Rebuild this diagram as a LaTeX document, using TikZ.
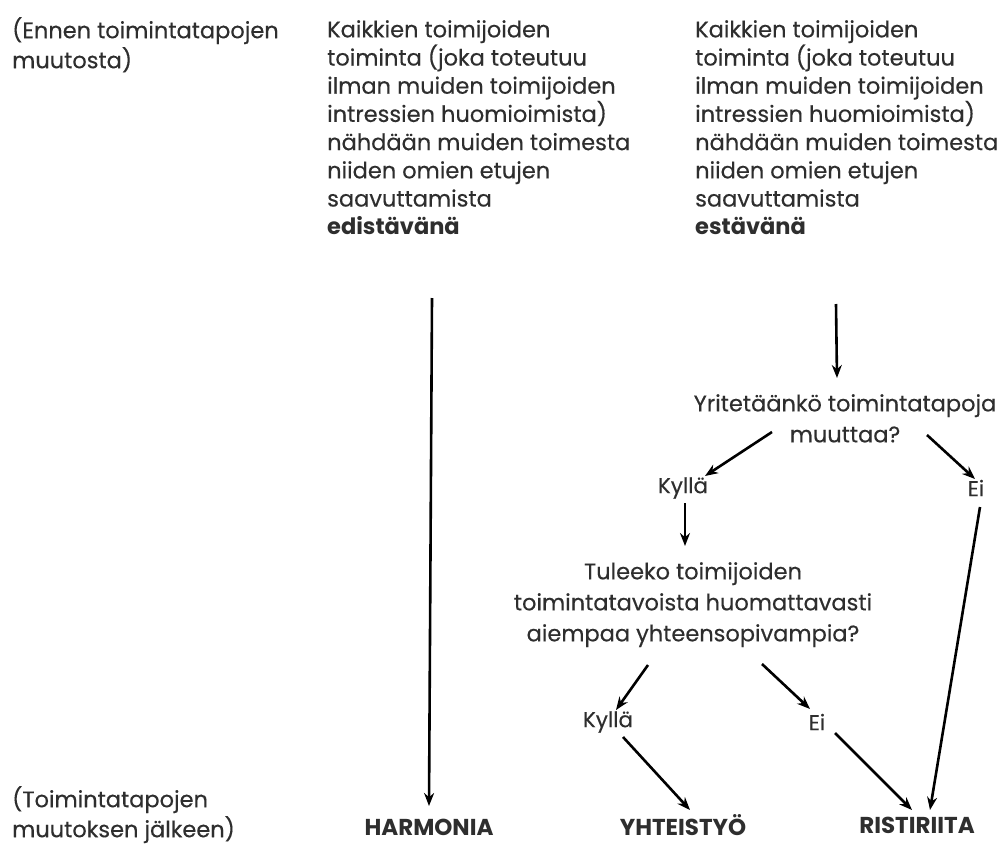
\documentclass[tikz,border=0pt]{standalone}
\usepackage{fontspec}
\setmainfont{Poppins}[UprightFeatures={FakeBold=0.3}]
\usetikzlibrary{arrows.meta}
\definecolor{textgray}{HTML}{2E2E2E}
\tikzset{
  txt/.style={font=\fontsize{22.5}{28.2}\selectfont, text=textgray, inner sep=0pt, align=left},
  lbltxt/.style={font=\fontsize{22.5}{30}\selectfont, text=textgray, inner sep=0pt, align=left},
  qtxt/.style={font=\fontsize{22.5}{31}\selectfont, text=textgray, inner sep=0pt, align=center},
  ans/.style={font=\fontsize{21.5}{22}\selectfont, text=textgray, inner sep=0pt},
  outc/.style={font=\fontsize{23}{24}\selectfont\bfseries, text=textgray, inner sep=0pt},
  arr/.style={-{Stealth[length=13pt,width=10pt]}, line width=2.6pt, black}
}
\begin{document}
\begin{tikzpicture}[x=1pt,y=-1pt]
\useasboundingbox[fill=white] (0,0) rectangle (1005,846);

\node[lbltxt, anchor=north west] (lbl1) at (12,17) {(Ennen toimintatapojen\\muutosta)};
\node[txt, anchor=north west] (blk1) at (327,20) {Kaikkien toimijoiden\\toiminta (joka toteutuu\\ilman muiden toimijoiden\\intressien huomioimista)\\nähdään muiden toimesta\\niiden omien etujen\\saavuttamista\\\textbf{edistävänä}};
\node[txt, anchor=north west] (blk2) at (695,20) {Kaikkien toimijoiden\\toiminta (joka toteutuu\\ilman muiden toimijoiden\\intressien huomioimista)\\nähdään muiden toimesta\\niiden omien etujen\\saavuttamista\\\textbf{estävänä}};

\node[qtxt, anchor=north] (q1) at (845,394) {Yritetäänkö toimintatapoja\\muuttaa?};
\node[ans] (k1) at (683,488) {Kyllä};
\node[ans] (e1) at (976,488) {Ei};
\node[qtxt, anchor=north] (q2) at (693,562) {Tuleeko toimijoiden\\toimintatavoista huomattavasti\\aiempaa yhteensopivampia?};
\node[ans] (k2) at (608,722) {Kyllä};
\node[ans] (e2) at (817,722) {Ei};

\node[outc] (harm) at (429,827) {HARMONIA};
\node[outc] (yht) at (683,825) {YHTEISTYÖ};
\node[outc] (rist) at (917,825) {RISTIRIITA};
\node[lbltxt, anchor=north west] (lbl2) at (12,786) {(Toimintatapojen\\muutoksen jälkeen)};

\coordinate (s1) at (432,298);
\coordinate (t1) at (429,806);
\coordinate (s2) at (836,304);
\coordinate (t2) at (837,378);
\coordinate (s3) at (772,432);
\coordinate (t3) at (705,476);
\coordinate (s4) at (927,435);
\coordinate (t4) at (975,479);
\coordinate (s5) at (685,503);
\coordinate (t5) at (685,546);
\coordinate (s6) at (648,665);
\coordinate (t6) at (616,710);
\coordinate (s7) at (762,664);
\coordinate (t7) at (810,709);
\coordinate (s8) at (623,737);
\coordinate (t8) at (690,810);
\coordinate (s9) at (835,733);
\coordinate (t9) at (912,810);
\coordinate (s10) at (980,507);
\coordinate (t10) at (930,810);

\draw[arr] (s1) -- (t1);
\draw[arr] (s2) -- (t2);
\draw[arr] (s3) -- (t3);
\draw[arr] (s4) -- (t4);
\draw[arr] (s5) -- (t5);
\draw[arr] (s6) -- (t6);
\draw[arr] (s7) -- (t7);
\draw[arr] (s8) -- (t8);
\draw[arr] (s9) -- (t9);
\draw[arr] (s10) -- (t10);
\end{tikzpicture}
\end{document}
